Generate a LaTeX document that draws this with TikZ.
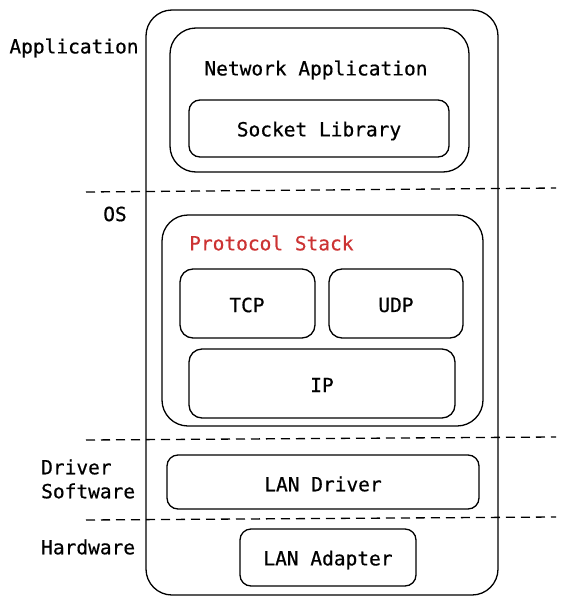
\documentclass[tikz,border=0pt]{standalone}
\usepackage{fontspec}
\setmonofont[FakeBold=0.6]{DejaVu Sans Mono}
\definecolor{stackred}{RGB}{204,51,51}
\begin{document}
\begin{tikzpicture}[x=1pt,y=-1pt,
  every node/.style={font=\ttfamily\fontsize{19.5}{24}\selectfont},
  layerbox/.style={draw, line width=1.3pt, rounded corners=#1},
  layerbox/.default=12pt,
  sep/.style={draw, line width=1.3pt, dash pattern=on 9pt off 6pt},
  lbl/.style={inner sep=0pt}]
\useasboundingbox (0,0) rectangle (568,605);
% outer container
\draw[layerbox=26pt] (146,10) rectangle (498,595);
% application
\draw[layerbox=26pt] (170,28) rectangle (469,172);
\node[lbl] (netapp) at (316,70) {Network Application};
\draw[layerbox=11pt] (189,100) rectangle (449,157);
\node[lbl] (sock) at (319,131) {Socket Library};
% protocol stack
\draw[layerbox=26pt] (162,215) rectangle (483,426);
\node[lbl, anchor=west, text=stackred] (ps) at (189,243) {Protocol Stack};
\draw[layerbox=13pt] (180,269) rectangle (315,338);
\node[lbl] (tcp) at (247,305) {TCP};
\draw[layerbox=13pt] (329,269) rectangle (463,338);
\node[lbl] (udp) at (396,305) {UDP};
\draw[layerbox=13pt] (189,349) rectangle (455,418);
\node[lbl] (ip) at (322,385) {IP};
% driver
\draw[layerbox=11pt] (167,455) rectangle (479,509);
\node[lbl] (drv) at (323,484) {LAN Driver};
% adapter
\draw[layerbox=11pt] (240,529) rectangle (416,586);
\node[lbl] (adp) at (328,560) {LAN Adapter};
% separators
\coordinate (s1a) at (86,192); \coordinate (s1b) at (556,188);
\coordinate (s2a) at (86,440); \coordinate (s2b) at (556,437);
\coordinate (s3a) at (86,520); \coordinate (s3b) at (556,517);
\draw[sep] (s1a) -- (s1b);
\draw[sep] (s2a) -- (s2b);
\draw[sep] (s3a) -- (s3b);
% layer labels
\node[lbl] (lapp) at (74,48) {Application};
\node[lbl] (los) at (115,214) {OS};
\node[lbl, anchor=west, align=left] (ldrv) at (41,479) {Driver\\Software};
\node[lbl, anchor=west] (lhw) at (41,547) {Hardware};
\end{tikzpicture}
\end{document}
